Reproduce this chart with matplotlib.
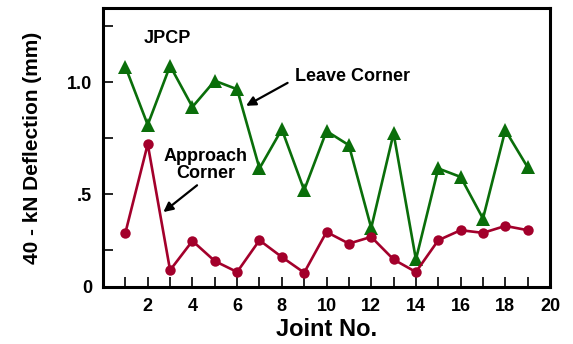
import matplotlib
matplotlib.use("Agg")
import matplotlib.pyplot as plt

plt.rcParams["font.family"] = ["Liberation Sans", "DejaVu Sans"]
plt.rcParams["font.weight"] = "bold"

joints = list(range(1, 20))
leave_corner = [1.07, 0.81, 1.074, 0.89, 1.007, 0.969, 0.615, 0.79, 0.518, 0.782,
                0.719, 0.349, 0.772, 0.208, 0.615, 0.577, 0.391, 0.786, 0.62]
approach_corner = [0.327, 0.724, 0.16, 0.291, 0.201, 0.152, 0.294, 0.219, 0.149, 0.331,
                   0.279, 0.309, 0.208, 0.152, 0.294, 0.339, 0.327, 0.358, 0.339]

x_labels = [2, 4, 6, 8, 10, 12, 14, 16, 18, 20]
y_bottom, y_top = 0.085, 1.331
y_ticks = [y_bottom, 0.25, 0.5, 0.75, 1.0, 1.25]
y_labels = ["0", "", ".5", "", "1.0", ""]

GREEN = "#0a6e0a"
RED = "#a3002b"

fig = plt.figure(figsize=(5.73, 3.44), dpi=100)
ax = fig.add_axes([0.1798, 0.1657, 0.9599 - 0.1798, 0.9759 - 0.1657])

ax.plot(joints, leave_corner, color=GREEN, lw=1.9, marker="^", ms=10,
        markeredgewidth=0, clip_on=False)
ax.plot(joints, approach_corner, color=RED, lw=1.9, marker="o", ms=7.5,
        markeredgewidth=0, clip_on=False)

ax.set_xlim(0, 20)
ax.set_ylim(y_bottom, y_top)
ax.set_xticks(joints + [20])
ax.set_xticklabels([str(j) if j in x_labels else "" for j in joints + [20]])
ax.set_yticks(y_ticks)
ax.set_yticklabels(y_labels)

for s in ax.spines.values():
    s.set_linewidth(2.2)
ax.tick_params(direction="in", length=7, width=1.2, labelsize=13, pad=8)
ax.tick_params(axis="x", pad=8)

ax.set_xlabel("Joint No.", fontsize=17, fontweight="bold", labelpad=2)
ax.set_ylabel("40 - kN Deflection (mm)", fontsize=15, fontweight="bold", labelpad=18)

ax.text(2.9, 1.195, "JPCP", fontsize=13, fontweight="bold", ha="center", va="center")

ax.annotate("Leave Corner", xy=(6.4, 0.895), xytext=(8.6, 1.024),
            fontsize=13, fontweight="bold", ha="left", va="center",
            arrowprops=dict(arrowstyle="-|>", color="black", lw=1.6, mutation_scale=14,
                            shrinkA=4, shrinkB=0, relpos=(0.0, 0.4)))
ax.annotate("Approach\nCorner", xy=(2.7, 0.42), xytext=(4.6, 0.632),
            fontsize=13, fontweight="bold", ha="center", va="center",
            linespacing=1.0,
            arrowprops=dict(arrowstyle="-|>", color="black", lw=1.6, mutation_scale=14,
                            shrinkA=1, shrinkB=0, relpos=(0.45, 0.0)))

fig.savefig("out.png", dpi=100)
